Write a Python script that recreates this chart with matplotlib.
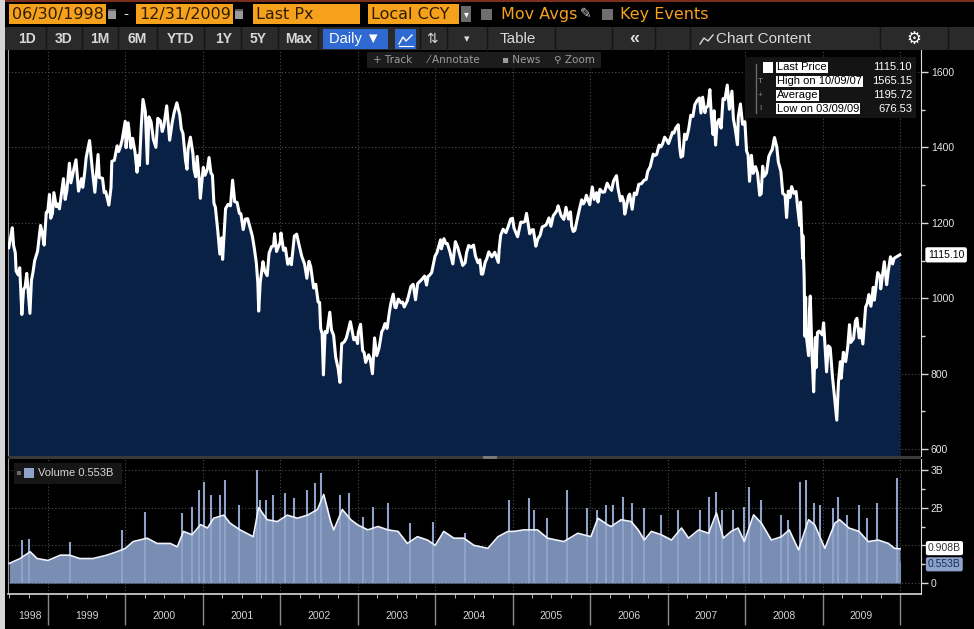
import matplotlib
matplotlib.use("Agg")
import matplotlib.pyplot as plt
import matplotlib.patches as mpatches
import matplotlib.transforms as mtransforms
import numpy as np
import pandas as pd

plt.rcParams['font.family'] = ['Liberation Sans', 'DejaVu Sans']

# ---- price (Last Px) ----
px_dates = [
    "1998-06-30", "1998-07-07", "1998-07-17", "1998-07-23", "1998-07-31", "1998-08-04", "1998-08-14", "1998-08-21",
    "1998-08-31", "1998-09-08", "1998-09-15", "1998-09-23", "1998-09-30", "1998-10-08", "1998-10-15", "1998-10-23",
    "1998-10-30", "1998-11-13", "1998-11-27", "1998-12-04", "1998-12-14", "1998-12-24", "1998-12-31",
    "1999-01-08", "1999-01-14", "1999-01-22", "1999-01-29", "1999-02-09", "1999-02-16", "1999-02-24", "1999-03-05",
    "1999-03-15", "1999-03-23", "1999-03-31", "1999-04-12", "1999-04-19", "1999-04-30", "1999-05-13", "1999-05-25",
    "1999-06-08", "1999-06-14", "1999-06-23", "1999-06-30", "1999-07-16", "1999-07-29", "1999-08-10", "1999-08-25",
    "1999-08-31", "1999-09-15", "1999-09-23", "1999-09-30", "1999-10-15", "1999-10-25", "1999-10-29", "1999-11-10",
    "1999-11-23", "1999-11-30", "1999-12-09", "1999-12-17", "1999-12-31",
    "2000-01-04", "2000-01-14", "2000-01-27", "2000-02-04", "2000-02-15", "2000-02-25", "2000-03-01", "2000-03-07",
    "2000-03-16", "2000-03-24", "2000-04-04", "2000-04-14", "2000-04-21", "2000-05-01", "2000-05-12", "2000-05-24",
    "2000-06-02", "2000-06-14", "2000-06-23", "2000-06-30", "2000-07-14", "2000-07-28", "2000-08-09", "2000-08-18",
    "2000-08-31", "2000-09-14", "2000-09-21", "2000-09-29", "2000-10-11", "2000-10-18", "2000-10-23", "2000-11-03",
    "2000-11-15", "2000-11-20", "2000-11-28", "2000-12-05", "2000-12-15", "2000-12-20", "2000-12-29",
    "2001-01-03", "2001-01-11", "2001-01-22", "2001-01-30", "2001-02-08", "2001-02-15", "2001-02-22", "2001-03-01",
    "2001-03-12", "2001-03-22", "2001-03-30", "2001-04-04", "2001-04-12", "2001-04-18", "2001-04-30", "2001-05-11",
    "2001-05-21", "2001-05-31", "2001-06-11", "2001-06-22", "2001-06-29", "2001-07-10", "2001-07-20", "2001-07-31",
    "2001-08-10", "2001-08-22", "2001-08-31", "2001-09-10", "2001-09-17", "2001-09-21", "2001-09-28", "2001-10-11",
    "2001-10-19", "2001-10-31", "2001-11-09", "2001-11-21", "2001-11-30", "2001-12-05", "2001-12-14", "2001-12-31",
    "2002-01-04", "2002-01-16", "2002-01-25", "2002-02-05", "2002-02-15", "2002-02-22", "2002-03-08", "2002-03-19",
    "2002-03-28", "2002-04-12", "2002-04-25", "2002-05-06", "2002-05-16", "2002-05-24", "2002-06-07", "2002-06-17",
    "2002-06-28", "2002-07-05", "2002-07-10", "2002-07-17", "2002-07-23", "2002-07-31", "2002-08-09", "2002-08-22",
    "2002-08-30", "2002-09-09", "2002-09-19", "2002-09-30", "2002-10-09", "2002-10-17", "2002-10-24", "2002-10-31",
    "2002-11-08", "2002-11-15", "2002-11-27", "2002-12-04", "2002-12-13", "2002-12-23", "2002-12-31",
    "2003-01-03", "2003-01-14", "2003-01-24", "2003-01-31", "2003-02-07", "2003-02-21", "2003-02-28", "2003-03-11",
    "2003-03-21", "2003-03-31", "2003-04-11", "2003-04-24", "2003-04-30", "2003-05-09", "2003-05-19", "2003-05-30",
    "2003-06-06", "2003-06-17", "2003-06-25", "2003-06-30", "2003-07-11", "2003-07-23", "2003-07-31", "2003-08-08",
    "2003-08-22", "2003-08-29", "2003-09-08", "2003-09-19", "2003-09-30", "2003-10-10", "2003-10-21", "2003-10-31",
    "2003-11-12", "2003-11-21", "2003-11-28", "2003-12-05", "2003-12-15", "2003-12-31",
    "2004-01-09", "2004-01-26", "2004-01-30", "2004-02-11", "2004-02-20", "2004-02-27", "2004-03-10", "2004-03-24",
    "2004-03-31", "2004-04-05", "2004-04-16", "2004-04-30", "2004-05-10", "2004-05-21", "2004-05-28", "2004-06-07",
    "2004-06-18", "2004-06-30", "2004-07-09", "2004-07-21", "2004-07-30", "2004-08-06", "2004-08-12", "2004-08-24",
    "2004-08-31", "2004-09-10", "2004-09-24", "2004-09-30", "2004-10-08", "2004-10-25", "2004-10-29", "2004-11-05",
    "2004-11-17", "2004-11-30", "2004-12-10", "2004-12-22", "2004-12-31",
    "2005-01-07", "2005-01-24", "2005-01-31", "2005-02-08", "2005-02-18", "2005-02-28", "2005-03-07", "2005-03-22",
    "2005-03-31", "2005-04-08", "2005-04-20", "2005-04-29", "2005-05-10", "2005-05-20", "2005-05-31", "2005-06-08",
    "2005-06-21", "2005-06-30", "2005-07-11", "2005-07-22", "2005-07-29", "2005-08-03", "2005-08-17", "2005-08-30",
    "2005-09-09", "2005-09-21", "2005-09-30", "2005-10-06", "2005-10-13", "2005-10-21", "2005-10-31", "2005-11-11",
    "2005-11-22", "2005-11-30", "2005-12-07", "2005-12-14", "2005-12-30",
    "2006-01-11", "2006-01-20", "2006-01-31", "2006-02-07", "2006-02-16", "2006-02-28", "2006-03-10", "2006-03-22",
    "2006-03-31", "2006-04-12", "2006-04-21", "2006-05-05", "2006-05-12", "2006-05-24", "2006-05-31", "2006-06-08",
    "2006-06-13", "2006-06-22", "2006-06-30", "2006-07-06", "2006-07-18", "2006-07-28", "2006-08-07", "2006-08-18",
    "2006-08-31", "2006-09-12", "2006-09-22", "2006-09-29", "2006-10-11", "2006-10-25", "2006-10-31", "2006-11-10",
    "2006-11-22", "2006-11-30", "2006-12-08", "2006-12-18", "2006-12-29",
    "2007-01-05", "2007-01-24", "2007-01-31", "2007-02-08", "2007-02-20", "2007-02-27", "2007-03-05", "2007-03-13",
    "2007-03-22", "2007-03-30", "2007-04-10", "2007-04-20", "2007-04-30", "2007-05-09", "2007-05-21", "2007-05-31",
    "2007-06-07", "2007-06-15", "2007-06-26", "2007-06-29", "2007-07-10", "2007-07-19", "2007-07-26", "2007-08-03",
    "2007-08-08", "2007-08-15", "2007-08-22", "2007-08-31", "2007-09-10", "2007-09-19", "2007-09-28", "2007-10-09",
    "2007-10-19", "2007-10-31", "2007-11-07", "2007-11-15", "2007-11-26", "2007-11-30", "2007-12-10", "2007-12-20",
    "2007-12-31",
    "2008-01-08", "2008-01-15", "2008-01-22", "2008-01-31", "2008-02-08", "2008-02-19", "2008-02-29", "2008-03-10",
    "2008-03-17", "2008-03-24", "2008-03-31", "2008-04-11", "2008-04-22", "2008-04-30", "2008-05-08", "2008-05-19",
    "2008-05-30", "2008-06-06", "2008-06-18", "2008-06-27", "2008-07-08", "2008-07-15", "2008-07-23", "2008-07-31",
    "2008-08-08", "2008-08-18", "2008-08-29", "2008-09-05", "2008-09-15", "2008-09-19", "2008-09-29", "2008-09-30",
    "2008-10-06", "2008-10-10", "2008-10-13", "2008-10-15", "2008-10-27", "2008-10-31", "2008-11-04", "2008-11-12",
    "2008-11-20", "2008-11-28", "2008-12-01", "2008-12-08", "2008-12-16", "2008-12-31",
    "2009-01-06", "2009-01-20", "2009-01-28", "2009-02-06", "2009-02-17", "2009-02-27", "2009-03-09", "2009-03-17",
    "2009-03-26", "2009-03-30", "2009-04-09", "2009-04-20", "2009-04-30", "2009-05-08", "2009-05-14", "2009-05-27",
    "2009-06-05", "2009-06-12", "2009-06-23", "2009-06-30", "2009-07-10", "2009-07-23", "2009-07-31", "2009-08-07",
    "2009-08-17", "2009-08-28", "2009-09-02", "2009-09-18", "2009-09-30", "2009-10-02", "2009-10-19", "2009-10-30",
    "2009-11-06", "2009-11-17", "2009-11-27", "2009-12-04", "2009-12-16", "2009-12-31",
]
px_close = [
    1134, 1155, 1187, 1140, 1121, 1072, 1062, 1081, 957, 1023, 1030, 1066, 1017, 960, 1047, 1071,
    1099, 1125, 1193, 1176, 1141, 1228, 1229,
    1275, 1212, 1225, 1280, 1243, 1250, 1237, 1275, 1317, 1262, 1286, 1358, 1306, 1335, 1367, 1284,
    1317, 1294, 1333, 1373, 1418, 1341, 1281, 1381, 1320, 1318, 1280, 1283, 1247, 1293, 1363, 1366,
    1404, 1389, 1403, 1421, 1469,
    1399, 1465, 1398, 1424, 1389, 1334, 1379, 1352, 1458, 1527, 1495, 1357, 1481, 1468, 1421, 1400,
    1477, 1470, 1442, 1455, 1510, 1419, 1466, 1492, 1518, 1485, 1449, 1437, 1365, 1342, 1396, 1427,
    1383, 1342, 1322, 1376, 1312, 1265, 1320,
    1347, 1326, 1342, 1373, 1332, 1326, 1252, 1241, 1180, 1117, 1160, 1103, 1183, 1238, 1249, 1245,
    1313, 1256, 1254, 1225, 1224, 1182, 1210, 1211, 1190, 1165, 1134, 1093, 1039, 966, 1041, 1097,
    1073, 1060, 1120, 1137, 1139, 1171, 1124, 1148,
    1173, 1127, 1133, 1090, 1105, 1089, 1165, 1170, 1147, 1111, 1091, 1053, 1098, 1084, 1027, 1037,
    990, 989, 920, 906, 797, 912, 909, 963, 916, 902, 843, 815, 777, 880, 882, 886,
    895, 910, 938, 918, 890, 896, 880,
    909, 931, 861, 856, 830, 850, 841, 800, 895, 848, 868, 912, 917, 933, 920, 964,
    987, 1011, 976, 975, 998, 988, 990, 977, 993, 1008, 1031, 1037, 996, 1039, 1045, 1051,
    1059, 1035, 1058, 1061, 1068, 1112,
    1121, 1155, 1131, 1158, 1145, 1145, 1124, 1091, 1126, 1150, 1135, 1107, 1087, 1094, 1121, 1140,
    1135, 1141, 1112, 1094, 1102, 1064, 1064, 1096, 1104, 1123, 1110, 1115, 1122, 1095, 1130, 1167,
    1183, 1174, 1189, 1210, 1212,
    1186, 1163, 1181, 1202, 1201, 1204, 1225, 1171, 1181, 1182, 1138, 1157, 1167, 1189, 1192, 1195,
    1213, 1191, 1219, 1227, 1234, 1245, 1219, 1209, 1241, 1210, 1229, 1191, 1177, 1180, 1207, 1235,
    1261, 1250, 1257, 1273, 1248,
    1295, 1262, 1280, 1255, 1289, 1281, 1282, 1305, 1295, 1286, 1311, 1325, 1292, 1258, 1270, 1257,
    1223, 1246, 1270, 1276, 1236, 1279, 1275, 1302, 1304, 1313, 1315, 1336, 1349, 1382, 1378, 1381,
    1406, 1401, 1409, 1427, 1418,
    1410, 1440, 1438, 1451, 1460, 1399, 1374, 1377, 1435, 1421, 1448, 1485, 1482, 1513, 1525, 1531,
    1491, 1533, 1492, 1503, 1510, 1553, 1483, 1434, 1497, 1406, 1464, 1474, 1451, 1529, 1527, 1565,
    1501, 1549, 1475, 1451, 1407, 1481, 1515, 1461, 1468,
    1390, 1380, 1310, 1379, 1331, 1349, 1331, 1273, 1277, 1350, 1323, 1332, 1376, 1386, 1394, 1426,
    1400, 1361, 1337, 1278, 1273, 1214, 1284, 1267, 1296, 1278, 1283, 1242, 1193, 1255, 1106, 1166,
    1057, 899, 1003, 908, 848, 969, 1006, 853, 752, 896, 816, 909, 913, 903,
    935, 805, 874, 869, 790, 735, 677, 778, 832, 788, 857, 832, 873, 930, 883, 893,
    940, 947, 895, 919, 879, 977, 987, 1010, 979, 1029, 995, 1068, 1057, 1025, 1097, 1036,
    1069, 1110, 1091, 1106, 1110, 1115.1,
]
last_price = 1115.10

# ---- volume moving average (decimal years, billions) ----
vol_ma_t = [
    1998.50, 1998.64, 1998.77, 1998.86, 1999.00, 1999.16, 1999.28, 1999.41, 1999.58, 1999.76, 1999.89,
    2000.00, 2000.10, 2000.28, 2000.41, 2000.58, 2000.67, 2000.75, 2000.86, 2000.97,
    2001.06, 2001.14, 2001.27, 2001.35, 2001.48, 2001.65, 2001.72, 2001.83, 2001.96,
    2002.09, 2002.22, 2002.35, 2002.48, 2002.56, 2002.65, 2002.69, 2002.80, 2002.91,
    2003.00, 2003.13, 2003.26, 2003.39, 2003.52, 2003.64, 2003.77, 2003.90,
    2004.00, 2004.11, 2004.24, 2004.37, 2004.50, 2004.68, 2004.81, 2004.94,
    2005.02, 2005.14, 2005.32, 2005.45, 2005.66, 2005.84,
    2006.01, 2006.10, 2006.23, 2006.27, 2006.40, 2006.53, 2006.62, 2006.70, 2006.79, 2006.92,
    2007.05, 2007.18, 2007.27, 2007.40, 2007.53, 2007.63, 2007.72, 2007.82, 2007.91, 2007.99,
    2008.11, 2008.21, 2008.34, 2008.47, 2008.57, 2008.69, 2008.82, 2008.90,
    2009.03, 2009.16, 2009.22, 2009.34, 2009.47, 2009.59, 2009.72, 2009.85, 2009.93, 2010.00,
]
vol_ma = [
    0.52, 0.65, 0.83, 0.65, 0.60, 0.74, 0.74, 0.65, 0.65, 0.74, 0.83,
    0.92, 1.10, 1.19, 1.05, 1.05, 0.96, 1.37, 1.28, 1.55,
    1.46, 1.72, 1.80, 1.59, 1.41, 1.23, 2.00, 1.68, 1.63,
    1.80, 1.72, 1.80, 1.95, 2.35, 1.63, 1.41, 1.95, 1.68,
    1.54, 1.41, 1.50, 1.41, 1.37, 1.05, 1.23, 1.14,
    1.00, 1.37, 1.19, 1.19, 1.00, 0.92, 1.23, 1.37,
    1.37, 1.41, 1.41, 1.19, 1.10, 1.32,
    1.23, 1.72, 1.54, 1.50, 1.68, 1.63, 1.41, 1.14, 1.37, 1.28,
    1.14, 1.46, 1.19, 1.41, 1.32, 1.86, 1.19, 1.37, 1.46, 1.10,
    1.81, 1.59, 1.14, 1.23, 1.41, 0.88, 1.68, 1.54,
    0.92, 1.59, 1.68, 1.46, 1.37, 1.10, 1.14, 1.05, 0.92, 0.908,
]
# tall single-day volume bars
spike_t = [
    1998.66, 1998.76, 1999.28, 1999.95, 2000.25, 2000.73, 2000.86, 2000.95, 2001.01, 2001.11,
    2001.22, 2001.29, 2001.46, 2001.70, 2001.74, 2001.82, 2001.91, 2002.06, 2002.17, 2002.34,
    2002.45, 2002.53, 2002.77, 2002.88, 2003.07, 2003.20, 2003.39, 2003.67, 2003.97, 2004.38,
    2004.95, 2005.21, 2005.27, 2005.44, 2005.70, 2005.96, 2006.09, 2006.20, 2006.30, 2006.42,
    2006.54, 2006.69, 2006.91, 2007.14, 2007.42, 2007.54, 2007.62, 2007.70, 2007.85, 2007.98,
    2008.05, 2008.20, 2008.46, 2008.56, 2008.71, 2008.78, 2008.89, 2008.97, 2009.14, 2009.20,
    2009.32, 2009.47, 2009.57, 2009.70, 2009.96,
]
spike_v = [
    1.14, 1.16, 1.10, 1.41, 1.89, 1.85, 2.03, 2.47, 2.69, 2.34,
    2.34, 2.73, 2.07, 3.00, 2.20, 2.20, 2.34, 2.38, 2.25, 2.47,
    2.65, 2.91, 2.34, 2.38, 1.76, 2.03, 2.12, 1.58, 1.63, 1.32,
    2.20, 2.25, 1.94, 1.72, 2.47, 1.98, 1.94, 2.07, 2.07, 2.29,
    2.12, 1.98, 1.81, 1.94, 1.94, 2.29, 2.42, 1.94, 1.94, 2.03,
    2.56, 2.20, 1.81, 1.67, 2.69, 2.73, 2.12, 2.07, 1.98, 2.29,
    1.81, 2.07, 1.72, 2.12, 2.78,
]
last_vol = 0.553
last_vol_ma = 0.908

years = list(range(1998, 2010))
legend_labels = ["Last Price", "High on 10/09/07", "Average", "Low on 03/09/09"]
legend_values = ["1115.10", "1565.15", "1195.72", "676.53"]

NAVY = "#0a2146"
VOLC = "#7a8db3"
ORANGE = "#f5a11c"
GRID = "#4d4d4d"
AXC = "#d8d8d8"

d = pd.to_datetime(px_dates)
px_t = d.year + (d.dayofyear - 1) / np.where(d.is_leap_year, 366, 365)

W, H = 974, 629
X0, X1 = 1998.484, 2010.271


def box(l, t, r, b):
    return [l / W, 1 - b / H, (r - l) / W, (b - t) / H]


fig = plt.figure(figsize=(W / 100, H / 100), dpi=100, facecolor="black")

# ---- price panel ----
ax = fig.add_axes(box(8, 50, 921, 456))
ax.set_facecolor("black")
ax.fill_between(px_t, px_close, 500, color=NAVY, lw=0, zorder=2)
ax.plot(px_t, px_close, color="white", lw=2.2, zorder=3)
ax.set_xlim(X0, X1)
ax.set_ylim(582, 1658)
ax.set_xticks(range(1999, 2011))
ax.set_xticklabels([])
ax.tick_params(axis="x", length=0)
ax.yaxis.tick_right()
ax.set_yticks([600, 800, 1000, 1200, 1400, 1600])
ax.set_yticks([700, 900, 1100, 1300, 1500], minor=True)
ax.tick_params(axis="y", which="major", length=5, width=1, color=AXC, labelcolor="#e6e6e6",
               labelsize=7.5, pad=2)
ax.tick_params(axis="y", which="minor", length=3, width=1, color=AXC)
ax.grid(True, which="major", color=GRID, ls=(0, (1, 2)), lw=0.8, zorder=1)
for s in ["top", "bottom"]:
    ax.spines[s].set_visible(False)
ax.spines["right"].set_color(AXC)
ax.spines["left"].set_color("#9a9a9a")
trans = mtransforms.blended_transform_factory(ax.transAxes, ax.transData)
ax.annotate(f"{last_price:.2f}", xy=(1.0, last_price), xycoords=trans, xytext=(5, 0),
            textcoords="offset points", va="center", ha="left", fontsize=7.5, color="black",
            bbox=dict(boxstyle="round,pad=0.25,rounding_size=0.2", fc="white", ec="none"),
            annotation_clip=False, zorder=5)

# ---- volume panel ----
av = fig.add_axes(box(8, 459, 921, 594))
av.set_facecolor("black")
av.fill_between(vol_ma_t, vol_ma, 0, color=VOLC, lw=0, zorder=2)
av.vlines(spike_t, 0, spike_v, color="#8fa2c8", lw=1.5, zorder=2)
av.vlines([vol_ma_t[-1]], 0, last_vol, color=VOLC, lw=1.5, zorder=2)
av.plot(vol_ma_t, vol_ma, color="#eef3ff", lw=1.2, zorder=3)
av.set_xlim(X0, X1)
av.set_ylim(-0.29, 3.29)
av.set_xticks(range(1999, 2011))
av.set_xticklabels([])
av.tick_params(axis="x", length=0)
av.yaxis.tick_right()
# the 1B label sits under the last-value tags in the terminal view
av.set_yticks([0, 1, 2, 3])
av.set_yticklabels(["0", "", "2B", "3B"])
av.set_yticks([0.5, 1.5, 2.5], minor=True)
av.tick_params(axis="y", which="major", length=5, width=1, color=AXC, labelcolor="#e6e6e6",
               labelsize=7.5, pad=2)
av.tick_params(axis="y", which="minor", length=3, width=1, color=AXC)
av.grid(True, which="major", color=GRID, ls=(0, (1, 2)), lw=0.8, zorder=1)
for s in ["top", "bottom"]:
    av.spines[s].set_visible(False)
av.spines["right"].set_color(AXC)
av.spines["left"].set_color("#9a9a9a")
trans_v = mtransforms.blended_transform_factory(av.transAxes, av.transData)
av.annotate(f"{last_vol_ma:.3f}B", xy=(1.0, last_vol_ma), xycoords=trans_v, xytext=(5, 0.5),
            textcoords="offset points", va="center", ha="left", fontsize=7.5, color="#333333",
            bbox=dict(boxstyle="round,pad=0.2,rounding_size=0.2", fc="white", ec="none"),
            annotation_clip=False, zorder=5)
av.annotate(f"{last_vol:.3f}B", xy=(1.0, last_vol), xycoords=trans_v, xytext=(5, -1.5),
            textcoords="offset points", va="center", ha="left", fontsize=7.5, color="#17305e",
            bbox=dict(boxstyle="round,pad=0.2,rounding_size=0.2", fc="#8ea3c9", ec="none"),
            annotation_clip=False, zorder=5)

# ---- date band ----
ab = fig.add_axes(box(8, 594, 921, 629))
ab.set_facecolor("black")
ab.set_xlim(X0, X1)
ab.set_ylim(0, 1)
ab.vlines(range(1999, 2011), 0.12, 1, color="#8a8a8a", lw=1)
ab.xaxis.set_ticks_position("top")
ab.set_xticks([])
ab.set_xticks([y + q for y in range(1998, 2010) for q in (0.25, 0.5, 0.75)
               if X0 < y + q < 2010], minor=True)
ab.tick_params(axis="x", which="minor", direction="in", length=3, color=AXC)
ab.set_yticks([])
for s in ["bottom", "left", "right"]:
    ab.spines[s].set_visible(False)
ab.spines["top"].set_color(AXC)
ab.spines["top"].set_linewidth(1.2)
for yr in years:
    cx = (X0 + 1999) / 2 + 0.03 if yr == 1998 else yr + 0.5
    ab.text(cx, 0.38, str(yr), ha="center", va="center", fontsize=7.5, color="#d4d4d4")

# ---- terminal chrome (pixel overlay) ----
ov = fig.add_axes([0, 0, 1, 1], zorder=10)
ov.set_xlim(0, W)
ov.set_ylim(H, 0)
ov.axis("off")
ov.patch.set_alpha(0)


def rect(x0, y0, x1, y1, c):
    ov.add_patch(mpatches.Rectangle((x0, y0), x1 - x0, y1 - y0, facecolor=c, edgecolor="none"))


rect(0, 0, W, 2, "#7a2e1e")
rect(0, 0, 5, H, "#d6d6d6")
# row 1
TXT1 = "#2e1d00"
for x0, x1, label in [(9, 106, "06/30/1998"), (136, 233, "12/31/2009"), (253, 360, "Last Px"),
                      (368, 459, "Local CCY")]:
    rect(x0, 4, x1, 24, ORANGE)
    ov.text(x0 + 3, 14.5, label, ha="left", va="center", fontsize=11.5, color=TXT1,
            family="DejaVu Sans")
for x0 in (108, 235):
    rect(x0, 9, x0 + 8, 19, "#9a9a9a")
    rect(x0, 9, x0 + 8, 11, "#5a5a5a")
ov.text(126, 14, "-", ha="center", va="center", fontsize=11, color="#e8e8e8")
rect(461, 6, 471, 22, "#6a6a6a")
ov.text(466, 14, "▾", ha="center", va="center", fontsize=7, color="white", family="DejaVu Sans")
rect(481, 9, 492, 20, "#6e6e6e")
ov.text(501, 14.5, "Mov Avgs", ha="left", va="center", fontsize=11.5, color=ORANGE,
        family="DejaVu Sans")
ov.text(586, 14, "✎", ha="center", va="center", fontsize=10, color="#cfcfcf", family="DejaVu Sans")
rect(602, 9, 613, 20, "#6e6e6e")
ov.text(620, 14.5, "Key Events", ha="left", va="center", fontsize=11.5, color=ORANGE,
        family="DejaVu Sans")

# row 2
rect(5, 27, W, 50, "#2a2a2a")
for xs in (46, 82, 118, 157, 204, 241, 278, 318, 420, 447, 487, 555, 612, 655, 690, 880, 948):
    ov.plot([xs, xs], [27, 50], color="#151515", lw=1)
TXT2 = "#d8d8d8"
for cx, label in [(27, "1D"), (64, "3D"), (100, "1M"), (137, "6M"), (181, "YTD"), (224, "1Y"),
                  (258, "5Y"), (299, "Max")]:
    ov.text(cx, 39, label, ha="center", va="center", fontsize=10, color=TXT2, fontweight="bold",
            family=["Liberation Sans Narrow", "Liberation Sans"])
rect(323, 29, 388, 49, "#2f69d2")
ov.text(355, 39, "Daily ▼", ha="center", va="center", fontsize=10.5, color="white",
        family=["Liberation Sans", "DejaVu Sans"])
rect(395, 29, 416, 49, "#2f69d2")
ov.plot([399, 403, 406, 412], [44, 37, 41, 35], color="white", lw=1)
ov.plot([399, 413], [45.5, 45.5], color="white", lw=0.8)
ov.text(432, 39, "⇅", ha="center", va="center", fontsize=10, color=TXT2, family="DejaVu Sans")
ov.text(467, 39, "▾", ha="center", va="center", fontsize=8, color=TXT2, family="DejaVu Sans")
ov.text(518, 39, "Table", ha="center", va="center", fontsize=11, color=TXT2)
ov.text(634, 38, "«", ha="center", va="center", fontsize=13, color=TXT2, fontweight="bold")
ov.plot([700, 704, 708, 713], [44, 38, 41, 35], color=TXT2, lw=1)
ov.text(764, 39, "Chart Content", ha="center", va="center", fontsize=11, color=TXT2)
ov.text(914, 38.5, "⚙", ha="center", va="center", fontsize=12, color="white", family="DejaVu Sans")

# row 3 (track / annotate strip)
rect(367, 52, 601, 68, "#1c1c1c")
TXT3 = "#9c9c9c"
for x, label in [(373, "+ Track"), (428, "⁄ Annotate"), (502, "▪ News"), (554, "⚲ Zoom")]:
    ov.text(x, 60, label, ha="left", va="center", fontsize=7.5, color=TXT3,
            family=["DejaVu Sans"])

# price legend
rect(745, 57, 916, 118, "#141414")
ov.plot([756, 756], [64, 113], color="#6a6a6a", lw=1)
rect(763, 62, 773, 73, "white")
row_y = [67.5, 81.5, 95.5, 108.5]
for sym, yy in zip(["T", "+", "I"], row_y[1:]):
    ov.text(760, yy, sym, ha="center", va="center", fontsize=6, color="#8a8a8a")
for lab, val, yy in zip(legend_labels, legend_values, row_y):
    ov.text(777, yy, lab, ha="left", va="center", fontsize=8, color="black",
            bbox=dict(boxstyle="square,pad=0.08", fc="white", ec="none"))
    ov.text(912, yy, val, ha="right", va="center", fontsize=8, color="white")

# volume legend
rect(14, 463, 122, 484, "#161616")
rect(17, 471, 21, 475, "#6a6a6a")
rect(24, 468, 34, 478, "#8ea3c9")
ov.text(38, 473.5, f"Volume {last_vol:.3f}B", ha="left", va="center", fontsize=8, color="#d6d6d6")

# panel separator
rect(8, 456, 921, 459, "#3a3a3a")
rect(483, 456, 497, 459, "#7a7a7a")

fig.savefig("out.png", dpi=100, facecolor="black")
